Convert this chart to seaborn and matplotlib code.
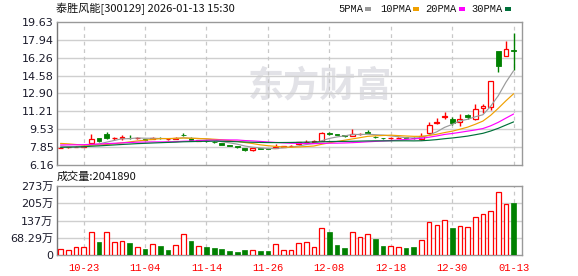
import numpy as np
import pandas as pd
import matplotlib
matplotlib.use('Agg')
import matplotlib.pyplot as plt
import seaborn as sns
from matplotlib.patches import Rectangle

# ---------------- data ----------------
title = '泰胜风能[300129] 2026-01-13 15:30'
vol_title = '成交量:2041890'
date_labels = ['10-23', '11-04', '11-14', '11-26', '12-08', '12-18', '12-30', '01-13']
date_idx = [3, 11, 19, 27, 35, 43, 51, 59]

opens = [7.78, 7.82, 7.86, 7.90, 8.19, 8.72, 9.12, 8.66, 8.70, 8.72,
         8.66, 8.60, 8.62, 8.72, 8.60, 8.64, 8.98, 8.70, 8.46, 8.45,
         8.36, 8.22, 8.00, 7.94, 7.79, 7.54, 7.74, 7.72, 7.80, 7.86,
         7.93, 8.10, 8.30, 8.36, 8.44, 9.15, 9.04, 8.95, 8.88, 9.08,
         9.26, 8.82, 8.72, 8.66, 8.70, 8.80, 8.72, 8.62, 9.14, 10.07,
         10.72, 10.46, 10.22, 10.91, 10.48, 11.50, 11.60, 16.86, 16.45, 17.02]
highs = [7.82, 7.90, 7.95, 8.02, 9.09, 8.75, 9.31, 8.76, 8.94, 8.94,
         8.80, 8.64, 8.78, 8.78, 8.72, 8.82, 9.13, 8.76, 8.56, 8.50,
         8.40, 8.25, 8.03, 7.96, 7.80, 7.76, 7.80, 7.75, 8.10, 7.96,
         8.06, 8.36, 8.50, 8.50, 9.25, 9.25, 9.08, 8.98, 9.56, 9.18,
         9.44, 8.86, 8.75, 8.76, 8.84, 8.83, 8.76, 9.20, 10.25, 10.62,
         11.17, 10.72, 10.97, 11.00, 11.94, 11.90, 14.07, 16.90, 17.88, 18.56]
lows = [7.75, 7.80, 7.83, 7.88, 8.17, 8.35, 8.63, 8.55, 8.55, 8.63,
        8.62, 8.50, 8.58, 8.62, 8.56, 8.60, 8.85, 8.44, 8.42, 8.36,
        8.22, 8.00, 7.92, 7.80, 7.45, 7.52, 7.66, 7.64, 7.76, 7.83,
        7.90, 8.06, 8.26, 8.33, 8.42, 8.95, 8.94, 8.82, 8.86, 9.03,
        9.14, 8.74, 8.64, 8.62, 8.67, 8.68, 8.64, 8.48, 9.05, 10.05,
        10.45, 9.95, 9.87, 10.45, 10.36, 11.05, 11.38, 14.94, 16.45, 15.09]
closes = [7.80, 7.86, 7.90, 7.98, 8.60, 8.38, 8.69, 8.72, 8.76, 8.66,
          8.72, 8.55, 8.69, 8.66, 8.64, 8.69, 8.94, 8.48, 8.52, 8.41,
          8.30, 8.04, 7.97, 7.90, 7.54, 7.73, 7.70, 7.68, 7.88, 7.92,
          7.98, 8.29, 8.36, 8.41, 9.16, 9.09, 9.00, 8.86, 9.09, 9.12,
          9.22, 8.78, 8.68, 8.71, 8.74, 8.71, 8.69, 8.85, 9.94, 10.25,
          10.78, 10.10, 10.50, 10.68, 11.44, 11.75, 14.07, 15.49, 17.04, 16.88]
# closes of the 29 sessions before the first bar (only used to seed the moving averages)
hist_closes = [7.20, 7.25, 7.30, 7.30, 7.35, 7.40, 7.40, 7.45, 7.45, 7.50,
               7.70, 7.75, 7.80, 7.85, 7.90, 7.95, 8.00, 8.00, 8.00, 8.05,
               8.30, 8.50, 8.60, 8.45, 8.40, 8.15, 8.05, 7.95, 7.75]
volumes = [23.6, 19.7, 30, 30, 90.6, 52.5, 90.6, 51, 55, 48.6,
           31.5, 23.6, 43, 35.5, 21, 38, 83, 56.5, 35.5, 31.5,
           27.6, 23.6, 15.8, 11.8, 19.7, 19.7, 15.8, 15.8, 43, 19.7,
           19.7, 47, 51, 31.5, 105, 90.6, 39, 27.6, 90.6, 71,
           83, 63, 35.5, 35.5, 30, 27.6, 31.5, 59, 132.6, 117,
           136.6, 106, 113, 109, 152, 164, 176, 251, 203.5, 204.189]  # 万

price_ticks = [6.16, 7.85, 9.53, 11.21, 12.90, 14.58, 16.26, 17.94, 19.63]
price_tick_labels = ['6.16', '7.85', '9.53', '11.21', '12.90', '14.58', '16.26', '17.94', '19.63']
vol_ticks = [0, 68.29, 136.58, 204.87, 273.16]
vol_tick_labels = ['0', '68.29万', '137万', '205万', '273万']

ma_periods = [5, 10, 20, 30]
ma_names = ['5PMA', '10PMA', '20PMA', '30PMA']
ma_colors = ['#9a9a9a', '#f0a000', '#ff00ff', '#00703a']

RED = '#ff0000'
GREEN = '#008000'

# ---------------- figure ----------------
sns.set_theme(style='white')
plt.rcParams['font.family'] = ['DejaVu Sans', 'Noto Sans CJK SC']

W, H = 578, 276
fig = plt.figure(figsize=(W / 100, H / 100), dpi=100)
fig.patch.set_facecolor('white')

def fbox(l, t, r, b):
    return [l / W, 1 - b / H, (r - l) / W, (b - t) / H]

ax = fig.add_axes(fbox(57, 22, 522, 165))
axv = fig.add_axes(fbox(57, 186, 522, 255))

n = len(closes)
x = np.arange(n)
o = np.array(opens); c = np.array(closes); h = np.array(highs); lo = np.array(lows)
up = c >= o
prev = np.concatenate([[hist_closes[-1]], c[:-1]])
vol_up = c >= prev

xlim = (-0.46, 60.09)

# watermark
ax.text(0.565, 0.55, '东方财富', transform=ax.transAxes, ha='center', va='center',
        fontsize=26, fontweight='bold', color='#e2e2e7',
        family=['Noto Sans CJK SC'], zorder=0)

# moving averages
all_close = pd.Series(hist_closes + closes)
for p, col in zip(ma_periods, ma_colors):
    ma = all_close.rolling(p).mean().to_numpy()[-n:]
    sns.lineplot(x=x, y=ma, ax=ax, color=col, linewidth=0.85, zorder=4)

# candles
top = np.maximum(o, c); bot = np.minimum(o, c)
bh = np.maximum(top - bot, 0.015)
ax.bar(x[up], bh[up], bottom=bot[up], width=0.62, facecolor='white',
       edgecolor=RED, linewidth=0.9, zorder=3)
ax.bar(x[~up], bh[~up], bottom=bot[~up], width=0.62, facecolor=GREEN,
       edgecolor=GREEN, linewidth=0.6, zorder=3)
ccols = np.where(up, RED, GREEN)
ax.vlines(x, top, h, colors=ccols, linewidth=1.0, zorder=3)
ax.vlines(x, lo, bot, colors=ccols, linewidth=1.0, zorder=3)

ax.set_xlim(*xlim)
ax.set_ylim(price_ticks[0], price_ticks[-1])
ax.set_yticks(price_ticks)
ax.set_yticklabels(price_tick_labels)
ax.set_xticks(date_idx)
ax.set_xticklabels([])
ax.grid(False)
for yv in price_ticks[1:-1]:
    ax.axhline(yv, color='#cfcfcf', linewidth=1.0, zorder=1)
for xv in date_idx:
    ax.axvline(xv, color='#c8c8c8', linewidth=0.9, linestyle=(0, (3, 3)), zorder=1)

# volume
vx = x
vv = np.array(volumes)
axv.bar(vx[vol_up], vv[vol_up], width=0.6, facecolor='white', edgecolor=RED,
        linewidth=0.9, zorder=3)
axv.bar(vx[~vol_up], vv[~vol_up], width=0.62, facecolor=GREEN, edgecolor=GREEN,
        linewidth=0.5, zorder=3)
axv.set_xlim(*xlim)
axv.set_ylim(vol_ticks[0], vol_ticks[-1])
axv.set_yticks(vol_ticks)
axv.set_yticklabels(vol_tick_labels)
axv.set_xticks(date_idx)
axv.set_xticklabels(date_labels, color=RED, fontsize=7.6, family=['Liberation Mono'])
axv.grid(False)
for yv in vol_ticks[1:-1]:
    axv.axhline(yv, color='#cfcfcf', linewidth=1.0, zorder=1)
for xv in date_idx:
    axv.axvline(xv, color='#c8c8c8', linewidth=0.9, linestyle=(0, (3, 3)), zorder=1)

for a in (ax, axv):
    a.set_facecolor('white')
    for s in a.spines.values():
        s.set_visible(True)
        s.set_color('#999999')
        s.set_linewidth(1.0)
    a.spines['left'].set_color('#777777')
    a.tick_params(axis='both', length=0, pad=2.5)
    for lab in a.get_yticklabels():
        lab.set_fontsize(8)
        lab.set_color('#1a1a2a')
axv.tick_params(axis='x', pad=6)

# header texts
fig.text(56 / W, 1 - 8.5 / H, title, ha='left', va='center', fontsize=8,
         family=['Noto Sans CJK SC'], color='#111111')
fig.text(57 / W, 1 - 177 / H, vol_title, ha='left', va='center', fontsize=8,
         family=['Noto Sans CJK SC'], color='#111111')

# legend
leg_text_x = [338, 380, 425, 471]
leg_sq_x = [365, 413, 459, 505]
for name, col, tx, sx in zip(ma_names, ma_colors, leg_text_x, leg_sq_x):
    fig.text(tx / W, 1 - 8.5 / H, name, ha='left', va='center', fontsize=7.5,
             family=['Liberation Mono'], color='#111111')
    fig.patches.append(Rectangle((sx / W, 1 - 10.5 / H), 5.5 / W, 3.5 / H,
                                 transform=fig.transFigure, facecolor=col,
                                 edgecolor='none'))

fig.savefig('out.png', dpi=100, facecolor='white')
